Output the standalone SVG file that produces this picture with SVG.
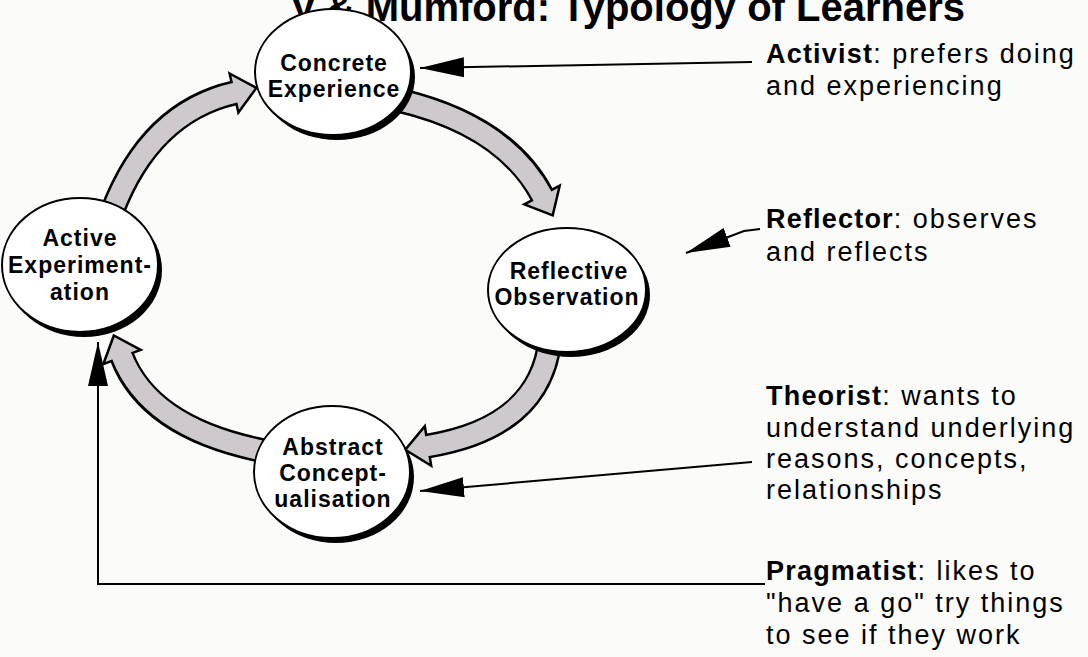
<svg xmlns="http://www.w3.org/2000/svg" width="1088" height="657" viewBox="0 0 1088 657">
<style>
.title{font-family:"Liberation Sans",Arial,sans-serif;font-weight:bold;font-size:40px;fill:#000}
.node{font-family:"Liberation Sans",Arial,sans-serif;font-weight:bold;font-size:23px;letter-spacing:1px;fill:#000;text-anchor:middle}
.desc{font-family:"Liberation Sans",Arial,sans-serif;font-size:27px;letter-spacing:2px;fill:#000}
.desc .b{font-weight:bold;letter-spacing:1.2px}
.shadow{fill:#000}
.disc{fill:#fff;stroke:#000;stroke-width:2}
.shaftO{fill:none;stroke:#000;stroke-width:25}
.shaftI{fill:none;stroke:#cdc9cd;stroke-width:20}
.head{fill:#cdc9cd;stroke:#000;stroke-width:2.5;stroke-linejoin:miter}
.ptr{fill:none;stroke:#000;stroke-width:2;marker-end:url(#ah)}
</style>
<defs>
<marker id="ah" markerUnits="userSpaceOnUse" markerWidth="48" markerHeight="26" refX="44" refY="12" orient="auto">
<path d="M0,2 L44,12 L0,22 Z" fill="#000"/>
</marker>
</defs>
<rect width="1088" height="657" fill="#fbfbf9"/>
<text class="title" x="965" y="21" text-anchor="end">y &amp; Mumford: Typology of Learners</text>

<g id="connectors">
<g id="cycle-arrows">
<path class="shaftO" d="M112,212 Q150,112 234,93"/>
<path class="shaftO" d="M398,100 Q505,125 542,195"/>
<path class="shaftO" d="M550,340 Q540,428 428,446"/>
<path class="shaftO" d="M270,452 Q150,430 122,357"/>
<polygon class="head" points="229.6,73.5 256.4,87.9 238.4,112.5"/>
<polygon class="head" points="559.7,185.7 552.7,215.3 524.3,204.3"/>
<polygon class="head" points="431.2,465.8 405.3,449.7 424.8,426.2"/>
<polygon class="head" points="140.7,349.8 113.8,335.5 103.3,364.2"/>
<path class="shaftI" d="M112,212 Q150,112 236,92.5"/>
<path class="shaftI" d="M398,100 Q505,125 543,197"/>
<path class="shaftI" d="M550,340 Q540,428 426,446.3"/>
<path class="shaftI" d="M270,452 Q150,430 121.3,355"/>
</g>
<g id="pointers">
<path class="ptr" d="M752,62 L420,68"/>
<path class="ptr" d="M760,229 L744,231 L686,253"/>
<path class="ptr" d="M752,462 L420,491"/>
<path class="ptr" d="M765,584 L98,584 L98,342"/>
</g>
</g>

<g id="concrete-experience">
<ellipse class="shadow" cx="337" cy="77" rx="78" ry="63"/>
<ellipse class="disc" cx="333" cy="72" rx="78" ry="63"/>
<text class="node" x="334" y="71">Concrete</text>
<text class="node" x="334" y="97">Experience</text>
</g>
<g id="active-experimentation">
<ellipse class="shadow" cx="84" cy="270" rx="78" ry="67"/>
<ellipse class="disc" cx="80" cy="265" rx="78" ry="67"/>
<text class="node" x="80" y="246">Active</text>
<text class="node" x="80" y="273">Experiment-</text>
<text class="node" x="80" y="300">ation</text>
</g>
<g id="reflective-observation">
<ellipse class="shadow" cx="571" cy="295" rx="79" ry="62"/>
<ellipse class="disc" cx="567" cy="290" rx="79" ry="62"/>
<text class="node" x="569" y="279">Reflective</text>
<text class="node" x="567" y="305">Observation</text>
</g>
<g id="abstract-conceptualisation">
<ellipse class="shadow" cx="336" cy="477" rx="78" ry="66"/>
<ellipse class="disc" cx="332" cy="472" rx="78" ry="66"/>
<text class="node" x="333" y="455">Abstract</text>
<text class="node" x="333" y="481">Concept-</text>
<text class="node" x="333" y="507">ualisation</text>
</g>

<g id="activist">
<text class="desc" x="766" y="63"><tspan class="b">Activist</tspan>: prefers doing</text>
<text class="desc" x="766" y="95">and experiencing</text>
</g>
<g id="reflector">
<text class="desc" x="766" y="228"><tspan class="b">Reflector</tspan>: observes</text>
<text class="desc" x="766" y="261">and reflects</text>
</g>
<g id="theorist">
<text class="desc" x="766" y="405"><tspan class="b">Theorist</tspan>: wants to</text>
<text class="desc" x="766" y="437">understand underlying</text>
<text class="desc" x="766" y="468">reasons, concepts,</text>
<text class="desc" x="766" y="499">relationships</text>
</g>
<g id="pragmatist">
<text class="desc" x="766" y="580"><tspan class="b">Pragmatist</tspan>: likes to</text>
<text class="desc" x="766" y="612">"have a go" try things</text>
<text class="desc" x="766" y="644">to see if they work</text>
</g>
</svg>
